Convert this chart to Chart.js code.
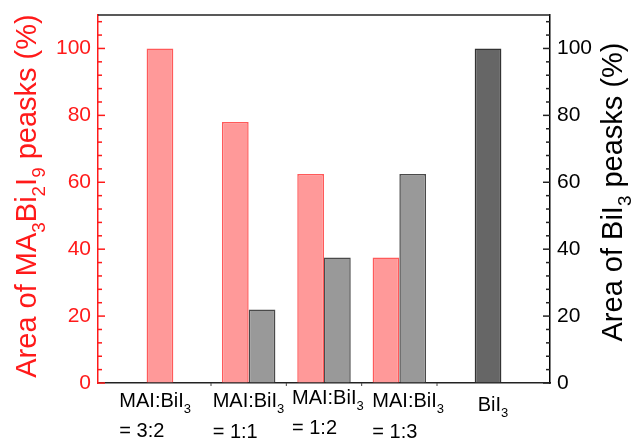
<!DOCTYPE html>
<html lang="en">
  <head>
    <meta charset="UTF-8" />
    <title>Peak area vs MAI:BiI3 ratio</title>
    <script src="https://cdn.jsdelivr.net/npm/chart.js@4.4.0/dist/chart.umd.min.js"></script>
    <style>
      body {
        margin: 0;
        background: #fff;
      }
      .wrap {
        width: 635px;
        height: 439px;
      }
    </style>
  </head>
  <body>
    <div class="wrap"><canvas id="peakChart"></canvas></div>

    <script>
      // data
      const categories = [
        ['MAI:BiI₃', '= 3:2'],
        ['MAI:BiI₃', '= 1:1'],
        ['MAI:BiI₃', '= 1:2'],
        ['MAI:BiI₃', '= 1:3'],
        ['BiI₃'],
      ];
      const ma3bi2i9Area = [100, 78, 62.5, 37.5, null];
      const bii3Area = [null, 22, 37.5, 62.5, 100];
      const yTickLabels = [0, 20, 40, 60, 80, 100];
      const leftTitle = 'Area of MA₃Bi₂I₉ peasks (%)';
      const rightTitle = 'Area of BiI₃ peasks (%)';

      const FONT = 'Arial, "Liberation Sans", sans-serif';
      const RED = '#ff1a1a';

      // empty slot at each end so the outer bars sit one full step in
      const labels = ['', ...categories.map((c) => c.join(' ')), ''];
      const pad = (arr) => [null, ...arr, null];

      const subs = { '₀': '0', '₁': '1', '₂': '2', '₃': '3', '₄': '4', '₅': '5', '₆': '6', '₇': '7', '₈': '8', '₉': '9' };

      function runs(text) {
        let out = [];
        for (const ch of text) {
          let isSub = ch in subs;
          let c = isSub ? subs[ch] : ch;
          let last = out[out.length - 1];
          if (last && last.sub === isSub) last.t += c;
          else out.push({ t: c, sub: isSub });
        }
        return out;
      }

      function drawRich(ctx, text, x, y, size, align) {
        let parts = runs(text);
        let w = 0;
        parts.forEach((p) => {
          ctx.font = (p.sub ? size * 0.65 : size) + 'px ' + FONT;
          p.w = ctx.measureText(p.t).width;
          w += p.w;
        });
        let cx = align === 'center' ? x - w / 2 : x;
        ctx.textAlign = 'left';
        ctx.textBaseline = 'alphabetic';
        parts.forEach((p) => {
          ctx.font = (p.sub ? size * 0.65 : size) + 'px ' + FONT;
          ctx.fillText(p.t, cx, p.sub ? y + size * 0.3 : y);
          cx += p.w;
        });
      }

      // inward tick marks, top frame line, rich x labels and titles
      const decor = {
        id: 'decor',
        afterDraw(chart) {
          const ctx = chart.ctx;
          const area = chart.chartArea;
          const x = chart.scales.x;
          const yl = chart.scales.y;
          const yr = chart.scales.y1;
          ctx.save();

          ctx.lineWidth = 1.5;
          ctx.strokeStyle = '#222';
          ctx.beginPath();
          ctx.moveTo(area.left, area.top);
          ctx.lineTo(area.right, area.top);
          ctx.stroke();

          for (let v = 0; v <= yl.max; v += 4) {
            let len = v % 20 === 0 ? 7 : 4;
            let py = yl.getPixelForValue(v);
            ctx.strokeStyle = RED;
            ctx.beginPath();
            ctx.moveTo(area.left, py);
            ctx.lineTo(area.left + len, py);
            ctx.stroke();
            py = yr.getPixelForValue(v);
            ctx.strokeStyle = '#222';
            ctx.beginPath();
            ctx.moveTo(area.right, py);
            ctx.lineTo(area.right - len, py);
            ctx.stroke();
          }

          ctx.strokeStyle = '#444';
          ctx.lineWidth = 1;
          for (let i = 1; i < categories.length; i++) {
            let px = x.getPixelForValue(i + 0.5);
            ctx.beginPath();
            ctx.moveTo(px, area.bottom);
            ctx.lineTo(px, area.bottom + 3);
            ctx.stroke();
          }

          const nudge = [
            { dx: -54, dy: 24, gap: 30 },
            { dx: -36, dy: 24, gap: 31 },
            { dx: -32, dy: 21, gap: 30 },
            { dx: -27, dy: 24, gap: 31 },
            { dx: 3, dy: 28, gap: 30 },
          ];
          ctx.fillStyle = '#000';
          categories.forEach((lines, i) => {
            let px = x.getPixelForValue(i + 1) + nudge[i].dx;
            lines.forEach((line, j) => {
              drawRich(ctx, line, px, area.bottom + nudge[i].dy + j * nudge[i].gap, 20, 'left');
            });
          });

          ctx.fillStyle = RED;
          ctx.save();
          ctx.translate(36, 196);
          ctx.rotate(-Math.PI / 2);
          drawRich(ctx, leftTitle, 0, 0, 29, 'center');
          ctx.restore();

          ctx.fillStyle = '#000';
          ctx.save();
          ctx.translate(622, 192);
          ctx.rotate(-Math.PI / 2);
          drawRich(ctx, rightTitle, 0, 0, 29, 'center');
          ctx.restore();

          ctx.restore();
        },
      };

      const yAxis = (pos, color, width) => ({
        position: pos,
        min: 0,
        max: 110,
        afterFit: (s) => {
          s.width = width;
          s.paddingTop = 0;
          s.paddingBottom = 0;
        },
        afterBuildTicks: (s) => {
          s.ticks = yTickLabels.map((v) => ({ value: v }));
        },
        grid: { drawOnChartArea: false, drawTicks: false },
        border: { display: true, color: color, width: 1.5 },
        ticks: {
          color: color,
          padding: 7,
          font: { family: FONT, size: 21 },
        },
      });

      new Chart(document.getElementById('peakChart'), {
        type: 'bar',
        data: {
          labels: labels,
          datasets: [
            {
              label: 'MA3Bi2I9',
              data: pad(ma3bi2i9Area),
              yAxisID: 'y',
              backgroundColor: '#ff9999',
              borderColor: '#ff5a5a',
              borderWidth: 1.5,
            },
            {
              label: 'BiI3',
              data: pad(bii3Area),
              yAxisID: 'y1',
              backgroundColor: labels.map((l, i) => (i === categories.length ? '#666666' : '#999999')),
              borderColor: labels.map((l, i) => (i === categories.length ? '#333333' : '#4a4a4a')),
              borderWidth: 1.5,
            },
          ],
        },
        options: {
          responsive: true,
          maintainAspectRatio: false,
          animation: false,
          categoryPercentage: 0.71,
          barPercentage: 1,
          layout: { padding: { top: 15, left: 0, right: 0, bottom: 0 } },
          plugins: { legend: { display: false }, tooltip: { enabled: false } },
          scales: {
            x: {
              offset: false,
              afterFit: (s) => {
                s.height = 56;
                s.paddingLeft = 0;
                s.paddingRight = 0;
              },
              grid: { display: false },
              border: { display: true, color: '#222', width: 1.5 },
              ticks: { display: false },
            },
            y: yAxis('left', RED, 98),
            y1: yAxis('right', '#000', 85),
          },
        },
        plugins: [decor],
      });
    </script>
  </body>
</html>
